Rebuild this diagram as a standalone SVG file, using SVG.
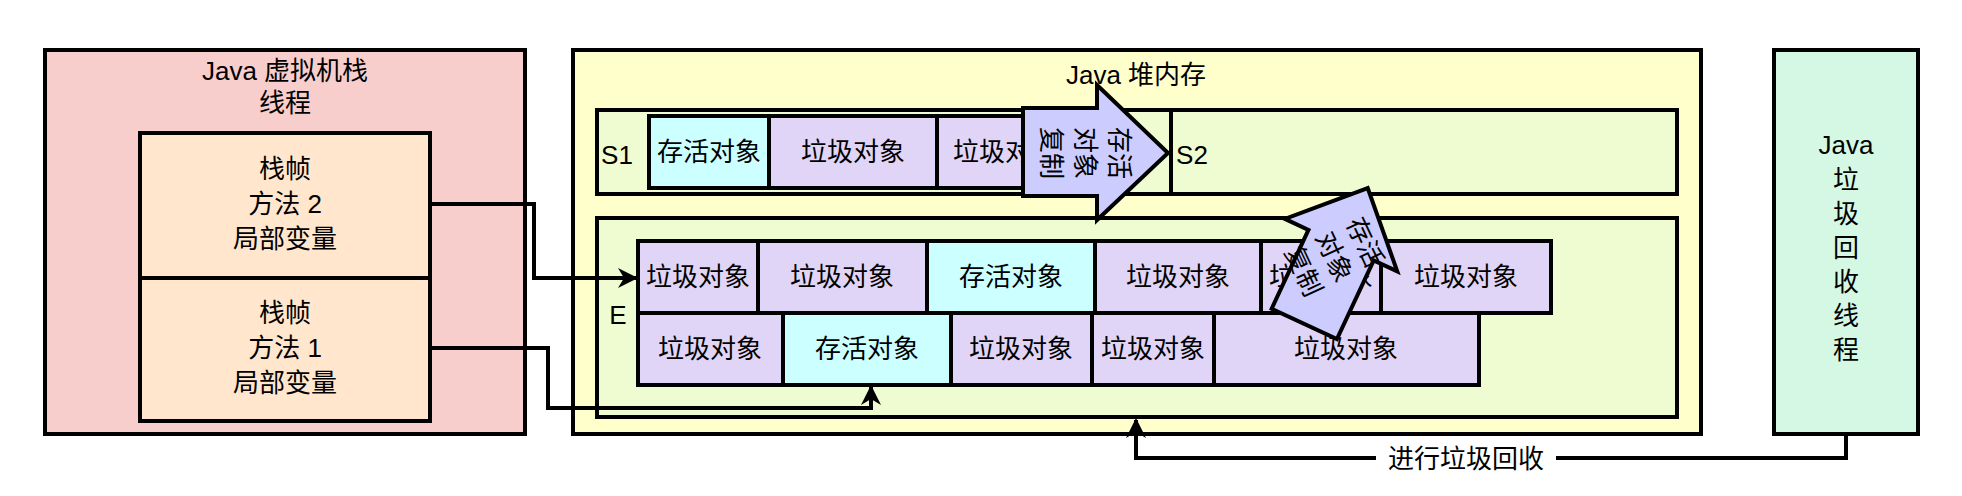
<svg xmlns="http://www.w3.org/2000/svg" width="1962" height="496" viewBox="0 0 1962 496">
<style>
.b{stroke:#000;stroke-width:4}
.t{font-family:"Liberation Sans","Noto Sans CJK SC",sans-serif;font-size:26px;text-anchor:middle;dominant-baseline:central;fill:#000}
.g{fill:#e1d5f7}.a{fill:#ccffff}.e{fill:#effbd0}
.c{fill:none;stroke:#000;stroke-width:4}
</style>
<defs><marker id="m" viewBox="0 0 10 10" refX="9" refY="5" markerWidth="5" markerHeight="5" orient="auto"><path d="M0,0L10,5L0,10L3,5z" fill="#000"/></marker></defs>
<rect width="1962" height="496" fill="#fff"/>
<g id="stack">
<rect class="b" x="45" y="50" width="480" height="384" fill="#f8cecc"/>
<text class="t" x="285" y="71">Java 虚拟机栈</text><text class="t" x="285" y="103">线程</text>
</g>
<g id="frame2"><rect class="b" x="140" y="133" width="290" height="145" fill="#ffe6cc"/>
<text class="t" x="285" y="169">栈帧</text><text class="t" x="285" y="204">方法 2</text><text class="t" x="285" y="239">局部变量</text></g>
<g id="frame1"><rect class="b" x="140" y="278" width="290" height="143" fill="#ffe6cc"/>
<text class="t" x="285" y="313">栈帧</text><text class="t" x="285" y="348">方法 1</text><text class="t" x="285" y="383">局部变量</text></g>
<g id="heap"><rect class="b" x="573" y="50" width="1128" height="384" fill="#ffffcc"/>
<text class="t" x="1136" y="75">Java 堆内存</text></g>
<g id="s1"><rect class="b e" x="597" y="110" width="1080" height="84"/><text class="t" x="617" y="155">S1</text>
<rect class="b a" x="649" y="116" width="120" height="72"/><text class="t" x="709" y="152">存活对象</text>
<rect class="b g" x="769" y="116" width="168" height="72"/><text class="t" x="853" y="152">垃圾对象</text>
<rect class="b g" x="937" y="116" width="110" height="72"/><text class="t" x="1005" y="152">垃圾对象</text></g>
<g id="s2"><rect class="b e" x="1171" y="110" width="506" height="84"/><text class="t" x="1192" y="155" text-anchor="start">S2</text></g>
<g id="eden"><rect class="b e" x="597" y="218" width="1080" height="199"/><text class="t" x="618" y="315">E</text>
<rect class="b g" x="638" y="241" width="120" height="72"/><text class="t" x="698" y="277">垃圾对象</text>
<rect class="b g" x="758" y="241" width="169" height="72"/><text class="t" x="842" y="277">垃圾对象</text>
<rect class="b a" x="927" y="241" width="168" height="72"/><text class="t" x="1011" y="277">存活对象</text>
<rect class="b g" x="1095" y="241" width="166" height="72"/><text class="t" x="1178" y="277">垃圾对象</text>
<rect class="b g" x="1261" y="241" width="120" height="72"/><text class="t" x="1321" y="277">垃圾对象</text>
<rect class="b g" x="1381" y="241" width="170" height="72"/><text class="t" x="1466" y="277">垃圾对象</text>
<rect class="b g" x="638" y="313" width="145" height="72"/><text class="t" x="710" y="349">垃圾对象</text>
<rect class="b a" x="783" y="313" width="168" height="72"/><text class="t" x="867" y="349">存活对象</text>
<rect class="b g" x="951" y="313" width="141" height="72"/><text class="t" x="1021" y="349">垃圾对象</text>
<rect class="b g" x="1092" y="313" width="122" height="72"/><text class="t" x="1153" y="349">垃圾对象</text>
<rect class="b g" x="1214" y="313" width="265" height="72"/><text class="t" x="1346" y="349">垃圾对象</text></g>
<g id="copy1"><path class="b" fill="#ccccff" d="M1023,108H1097V85L1168,153L1097,220V196H1023Z"/>
<g transform="rotate(90 1085 153)"><text class="t" x="1085" y="119">存活</text><text class="t" x="1085" y="153">对象</text><text class="t" x="1085" y="187">复制</text></g></g>
<g id="copy2" transform="translate(1336 256) rotate(25)"><path class="b" fill="#ccccff" d="M0,-75L62,-12H36V75H-36V-12H-62Z"/>
<g transform="rotate(40)"><text class="t" x="0" y="-32">存活</text><text class="t" x="0" y="2">对象</text><text class="t" x="0" y="36">复制</text></g></g>
<g id="gc"><rect class="b" x="1774" y="50" width="144" height="384" fill="#d4f8e4"/>
<text class="t" x="1846" y="145">Java</text><text class="t" x="1846" y="180">垃</text><text class="t" x="1846" y="214">圾</text><text class="t" x="1846" y="248">回</text><text class="t" x="1846" y="282">收</text><text class="t" x="1846" y="316">线</text><text class="t" x="1846" y="350">程</text></g>
<g id="connectors">
<path class="c" d="M430,204H534V278H636" marker-end="url(#m)"/>
<path class="c" d="M430,348H548V408H871V387" marker-end="url(#m)"/>
<path class="c" d="M1846,434V458H1136V420" marker-end="url(#m)"/>
<rect x="1376" y="442" width="180" height="32" fill="#fff"/>
<text class="t" x="1466" y="459">进行垃圾回收</text>
</g>
</svg>
